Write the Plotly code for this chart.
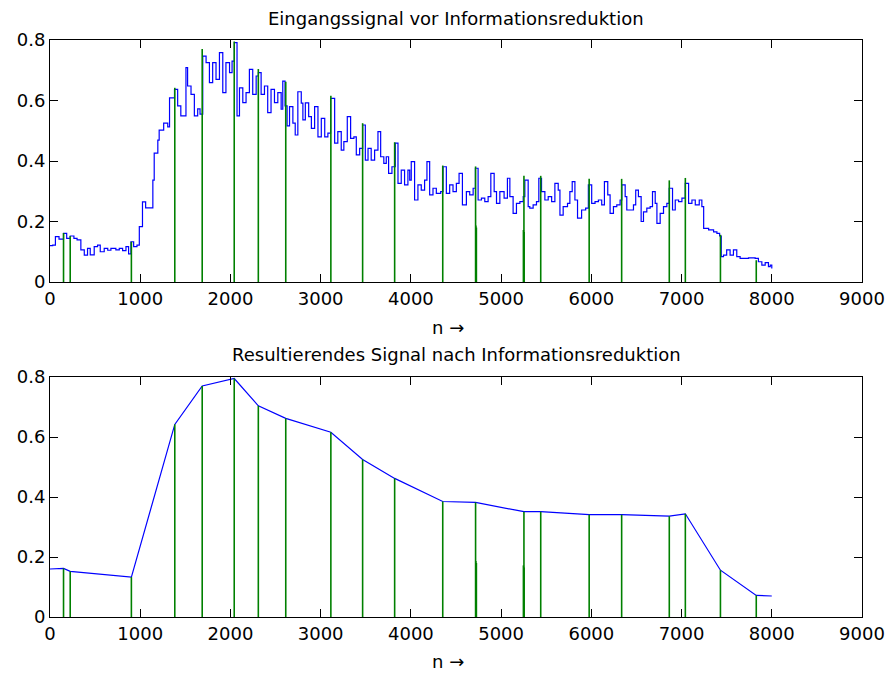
import plotly.graph_objects as go

# ---- data ----
sig_n = [0, 30, 60, 100, 150, 185, 225, 265, 300, 342, 380, 416, 446, 490, 527, 557, 601, 640, 675, 730,
         768, 805, 842, 871, 897, 927, 964, 990, 1025, 1060, 1140, 1155, 1195, 1210, 1260, 1305, 1325, 1380,
         1415, 1450, 1507, 1525, 1563, 1600, 1637, 1663, 1693, 1730, 1767, 1803, 1840, 1878, 1915, 1950,
         1990, 2018, 2044, 2073, 2100, 2137, 2173, 2210, 2247, 2285, 2310, 2340, 2377, 2413, 2450, 2488,
         2525, 2562, 2580, 2605, 2628, 2655, 2692, 2718, 2747, 2785, 2803, 2830, 2867, 2897, 2933, 2970,
         3007, 3045, 3080, 3110, 3155, 3190, 3228, 3257, 3295, 3332, 3368, 3395, 3432, 3465, 3495, 3525,
         3560, 3598, 3635, 3665, 3700, 3727, 3753, 3790, 3827, 3857, 3893, 3930, 3967, 3987, 4004, 4041,
         4078, 4115, 4152, 4178, 4208, 4245, 4282, 4330, 4356, 4393, 4430, 4467, 4504, 4534, 4571, 4615,
         4652, 4690, 4715, 4745, 4782, 4819, 4856, 4886, 4923, 4949, 4986, 5033, 5070, 5097, 5133, 5170,
         5208, 5245, 5263, 5300, 5318, 5355, 5392, 5418, 5448, 5485, 5522, 5560, 5596, 5633, 5652, 5688,
         5736, 5762, 5788, 5818, 5847, 5892, 5937, 5967, 6004, 6041, 6078, 6115, 6145, 6182, 6208, 6245,
         6282, 6319, 6338, 6375, 6393, 6430, 6467, 6492, 6522, 6552, 6578, 6615, 6652, 6678, 6708, 6727,
         6763, 6800, 6837, 6863, 6900, 6930, 6967, 7004, 7041, 7078, 7115, 7152, 7196, 7225, 7245, 7300,
         7355, 7392, 7422, 7440, 7465, 7500, 7538, 7575, 7612, 7649, 7742, 7816, 7852, 7890, 7927, 7963,
         7983, 8000]
sig_v = [0.12, 0.122, 0.15, 0.142, 0.161, 0.144, 0.152, 0.144, 0.139, 0.106, 0.089, 0.111, 0.09, 0.117,
         0.122, 0.1, 0.111, 0.105, 0.111, 0.106, 0.111, 0.104, 0.117, 0.093, 0.133, 0.117, 0.122, 0.183,
         0.265, 0.245, 0.337, 0.426, 0.469, 0.502, 0.525, 0.513, 0.609, 0.637, 0.582, 0.549, 0.709, 0.648,
         0.62, 0.549, 0.572, 0.555, 0.747, 0.725, 0.659, 0.725, 0.67, 0.758, 0.626, 0.725, 0.692, 0.73,
         0.791, 0.549, 0.642, 0.593, 0.626, 0.703, 0.62, 0.681, 0.692, 0.62, 0.648, 0.56, 0.637, 0.593,
         0.626, 0.571, 0.664, 0.582, 0.516, 0.58, 0.525, 0.486, 0.629, 0.591, 0.536, 0.592, 0.547, 0.508,
         0.58, 0.48, 0.541, 0.48, 0.492, 0.607, 0.459, 0.497, 0.436, 0.464, 0.547, 0.475, 0.48, 0.42,
         0.442, 0.519, 0.403, 0.442, 0.403, 0.436, 0.497, 0.414, 0.392, 0.414, 0.359, 0.381, 0.459, 0.326,
         0.37, 0.321, 0.37, 0.337, 0.398, 0.271, 0.321, 0.304, 0.337, 0.398, 0.288, 0.31, 0.293, 0.299,
         0.381, 0.293, 0.321, 0.299, 0.326, 0.359, 0.255, 0.299, 0.288, 0.31, 0.376, 0.271, 0.277, 0.266,
         0.282, 0.359, 0.299, 0.26, 0.299, 0.277, 0.343, 0.282, 0.227, 0.26, 0.266, 0.282, 0.337, 0.249,
         0.244, 0.255, 0.266, 0.343, 0.299, 0.271, 0.282, 0.266, 0.326, 0.304, 0.221, 0.249, 0.26, 0.299,
         0.332, 0.271, 0.211, 0.238, 0.244, 0.321, 0.26, 0.266, 0.271, 0.255, 0.332, 0.288, 0.227, 0.249,
         0.255, 0.271, 0.321, 0.282, 0.238, 0.238, 0.255, 0.304, 0.282, 0.2, 0.232, 0.244, 0.249, 0.299,
         0.26, 0.194, 0.227, 0.249, 0.26, 0.31, 0.238, 0.271, 0.266, 0.277, 0.326, 0.26, 0.271, 0.255,
         0.271, 0.249, 0.177, 0.172, 0.166, 0.161, 0.152, 0.084, 0.089, 0.106, 0.089, 0.106, 0.084, 0.078,
         0.08, 0.078, 0.067, 0.056, 0.064, 0.051, 0.056, 0.045]

stem_n = [150, 224, 902, 1383, 1687, 2042, 2309, 2613, 3113, 3465, 3820, 4353, 4717, 5253, 5439, 5976,
          6336, 6864, 7042, 7431, 7828]
stem_v = [0.162, 0.152, 0.133, 0.642, 0.77, 0.795, 0.704, 0.662, 0.616, 0.525, 0.462, 0.385, 0.382,
          0.351, 0.351, 0.341, 0.341, 0.336, 0.344, 0.156, 0.072]

short_n = [4720, 4726, 5247, 5255]
short_v = [0.187, 0.18, 0.172, 0.165]

line_start_n, line_start_v = 0, 0.16
line_end_n, line_end_v = 8000, 0.07

x_ticks = [0, 1000, 2000, 3000, 4000, 5000, 6000, 7000, 8000, 9000]
y_ticks = [0, 0.2, 0.4, 0.6, 0.8]
y_tick_labels = ["0", "0.2", "0.4", "0.6", "0.8"]

title_top = "Eingangssignal vor Informationsreduktion"
title_bottom = "Resultierendes Signal nach Informationsreduktion"
x_label = "n \u2192"

# ---- build figure ----
BLUE = "rgb(0,0,255)"
GREEN = "rgb(0,128,0)"


def stem_xy(ns, vs):
    xs, ys = [], []
    for n, v in zip(ns, vs):
        xs += [n, n, None]
        ys += [0, v, None]
    return xs, ys


sx, sy = stem_xy(stem_n + short_n, stem_v + short_v)

fig = go.Figure()
fig.add_trace(go.Scatter(x=sig_n, y=sig_v, mode="lines", line=dict(color=BLUE, width=1.2, shape="hv"),
                         xaxis="x", yaxis="y", showlegend=False, hoverinfo="skip"))
fig.add_trace(go.Scatter(x=sx, y=sy, mode="lines", line=dict(color=GREEN, width=1.6),
                         xaxis="x", yaxis="y", showlegend=False, hoverinfo="skip"))
ln = [line_start_n] + stem_n + [line_end_n]
lv = [line_start_v] + stem_v + [line_end_v]
fig.add_trace(go.Scatter(x=ln, y=lv, mode="lines", line=dict(color=BLUE, width=1.2),
                         xaxis="x2", yaxis="y2", showlegend=False, hoverinfo="skip"))
fig.add_trace(go.Scatter(x=sx, y=sy, mode="lines", line=dict(color=GREEN, width=1.6),
                         xaxis="x2", yaxis="y2", showlegend=False, hoverinfo="skip"))

FONT = dict(family="DejaVu Sans, sans-serif", size=18, color="black")

axis_common = dict(showgrid=False, zeroline=False, showline=True, linecolor="black", linewidth=1,
                   mirror="ticks", ticks="inside", tickcolor="black", tickwidth=1, tickfont=FONT,
                   ticklen=8, automargin=False)

M_T, M_B, M_L, M_R = 40, 56, 50, 23
H = 673
plot_h = H - M_T - M_B


def py2paper(py):
    return (H - M_B - py) / plot_h


fig.update_layout(
    width=885, height=673,
    margin=dict(l=M_L, r=M_R, t=M_T, b=M_B),
    paper_bgcolor="white", plot_bgcolor="white",
    xaxis=dict(domain=[0, 1], range=[0, 9000], tickvals=x_ticks, anchor="y", **axis_common),
    yaxis=dict(domain=[py2paper(282), 1], range=[0, 0.8], tickvals=y_ticks, ticktext=y_tick_labels,
               anchor="x", **axis_common),
    xaxis2=dict(domain=[0, 1], range=[0, 9000], tickvals=x_ticks, anchor="y2", **axis_common),
    yaxis2=dict(domain=[0, py2paper(377)], range=[0, 0.8], tickvals=y_ticks, ticktext=y_tick_labels,
                anchor="x2", **axis_common),
    annotations=[
        dict(text=title_top, xref="paper", yref="paper", x=0.5, y=py2paper(18), showarrow=False,
             font=FONT, xanchor="center", yanchor="middle"),
        dict(text=title_bottom, xref="paper", yref="paper", x=0.5, y=py2paper(354), showarrow=False,
             font=FONT, xanchor="center", yanchor="middle"),
        dict(text=x_label, xref="paper", yref="paper", x=0.49, y=py2paper(327), showarrow=False,
             font=FONT, xanchor="center", yanchor="middle"),
        dict(text=x_label, xref="paper", yref="paper", x=0.49, y=py2paper(661), showarrow=False,
             font=FONT, xanchor="center", yanchor="middle"),
    ],
)

fig.write_html("out.html", config={"displayModeBar": False},
               post_script="document.body.style.margin='0';")
